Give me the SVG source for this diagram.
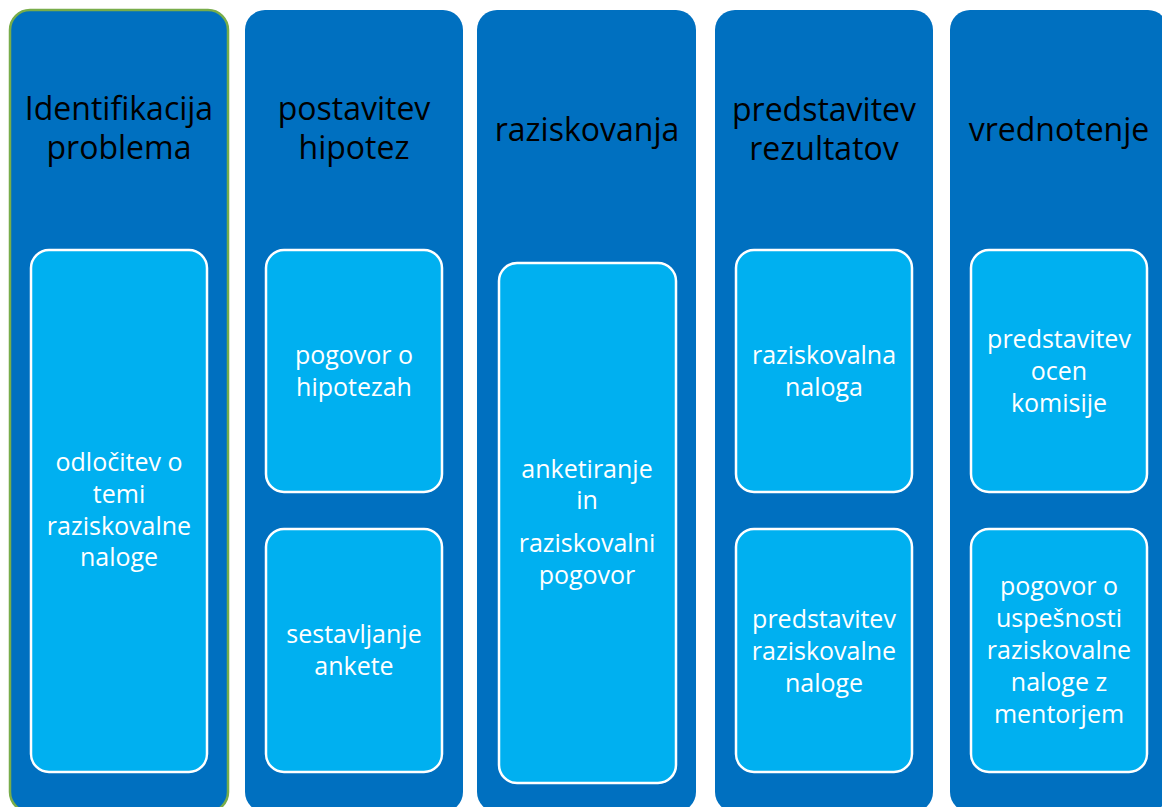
<svg xmlns="http://www.w3.org/2000/svg" width="1162" height="807" viewBox="0 0 1162 807">
<style>
.col{fill:#0070C0;}
.box{fill:#00B0F0;stroke:#FFFFFF;stroke-width:2.5;}
.hd{font-family:"Open Sans","Noto Sans",sans-serif;font-size:32px;fill:#000000;text-anchor:middle;}
.tx{font-family:"Open Sans","Noto Sans",sans-serif;font-size:25px;fill:#FFFFFF;text-anchor:middle;}
</style>
<rect width="1162" height="807" fill="#FFFFFF"/>
<g id="col1">
<rect class="col" x="10" y="10" width="218" height="802" rx="20" stroke="#78AD4A" stroke-width="2.5"/>
<text class="hd" x="119" y="120">Identifikacija</text>
<text class="hd" x="119" y="159">problema</text>
<g id="col1-box1">
<rect class="box" x="31" y="250" width="176" height="522" rx="18"/>
<text class="tx" x="119" y="471">odločitev o</text>
<text class="tx" x="119" y="503">temi</text>
<text class="tx" x="119" y="535">raziskovalne</text>
<text class="tx" x="119" y="566">naloge</text>
</g>
</g>
<g id="col2">
<rect class="col" x="245" y="10" width="218" height="802" rx="20"/>
<text class="hd" x="354" y="120">postavitev</text>
<text class="hd" x="354" y="159">hipotez</text>
<g id="col2-box1">
<rect class="box" x="266" y="250" width="176" height="242" rx="18"/>
<text class="tx" x="354" y="364">pogovor o</text>
<text class="tx" x="354" y="396">hipotezah</text>
</g>
<g id="col2-box2">
<rect class="box" x="266" y="529" width="176" height="243" rx="18"/>
<text class="tx" x="354" y="643">sestavljanje</text>
<text class="tx" x="354" y="675">ankete</text>
</g>
</g>
<g id="col3">
<rect class="col" x="477" y="10" width="219" height="802" rx="20"/>
<text class="hd" x="587" y="141">raziskovanja</text>
<g id="col3-box1">
<rect class="box" x="499" y="263" width="177" height="520" rx="18"/>
<text class="tx" x="587" y="478">anketiranje</text>
<text class="tx" x="587" y="509">in</text>
<text class="tx" x="587" y="552">raziskovalni</text>
<text class="tx" x="587" y="584">pogovor</text>
</g>
</g>
<g id="col4">
<rect class="col" x="715" y="10" width="218" height="802" rx="20"/>
<text class="hd" x="824" y="121">predstavitev</text>
<text class="hd" x="824" y="160">rezultatov</text>
<g id="col4-box1">
<rect class="box" x="736" y="250" width="176" height="242" rx="18"/>
<text class="tx" x="824" y="364">raziskovalna</text>
<text class="tx" x="824" y="396">naloga</text>
</g>
<g id="col4-box2">
<rect class="box" x="736" y="529" width="176" height="243" rx="18"/>
<text class="tx" x="824" y="628">predstavitev</text>
<text class="tx" x="824" y="660">raziskovalne</text>
<text class="tx" x="824" y="692">naloge</text>
</g>
</g>
<g id="col5">
<rect class="col" x="950" y="10" width="218" height="802" rx="20"/>
<text class="hd" x="1059" y="141">vrednotenje</text>
<g id="col5-box1">
<rect class="box" x="971" y="250" width="176" height="242" rx="18"/>
<text class="tx" x="1059" y="348">predstavitev</text>
<text class="tx" x="1059" y="380">ocen</text>
<text class="tx" x="1059" y="412">komisije</text>
</g>
<g id="col5-box2">
<rect class="box" x="971" y="529" width="176" height="243" rx="18"/>
<text class="tx" x="1059" y="595">pogovor o</text>
<text class="tx" x="1059" y="627">uspešnosti</text>
<text class="tx" x="1059" y="659">raziskovalne</text>
<text class="tx" x="1059" y="691">naloge z</text>
<text class="tx" x="1059" y="723">mentorjem</text>
</g>
</g>
<g id="connectors"></g>
</svg>
